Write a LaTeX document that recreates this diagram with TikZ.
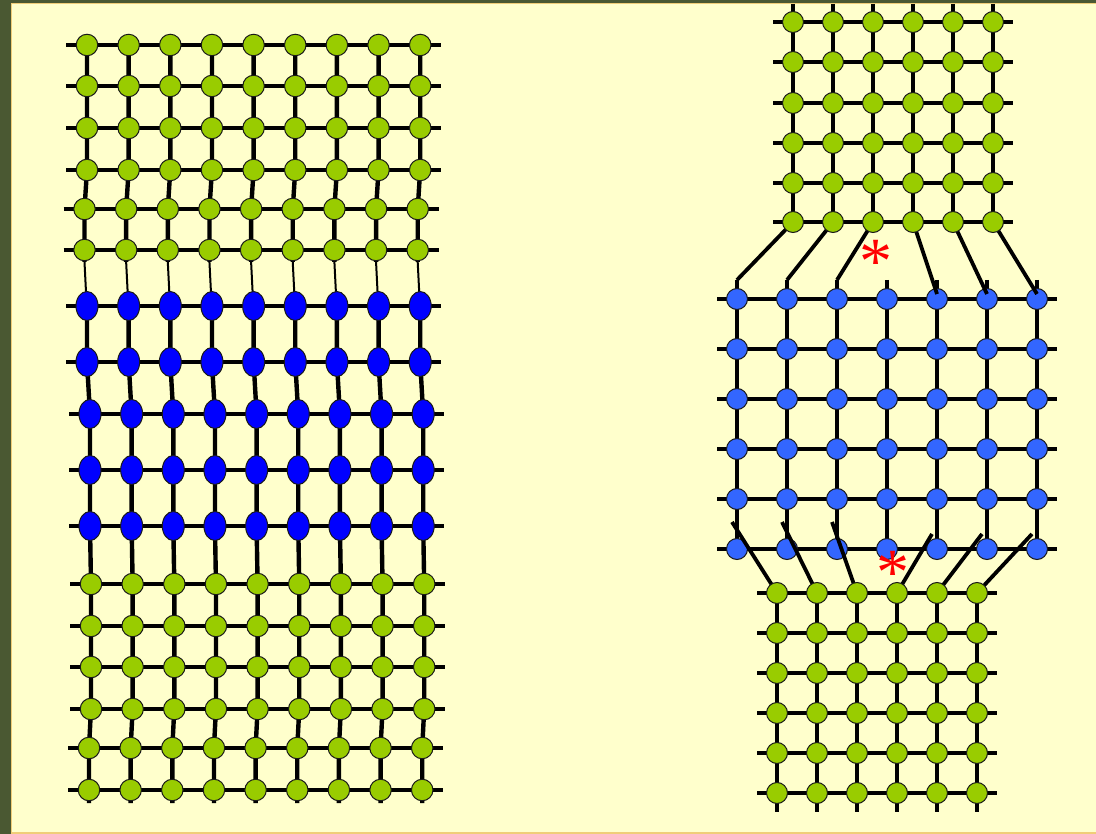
\documentclass[tikz,border=0pt]{standalone}
\usepackage{fontspec}
\newfontfamily\astfont{Liberation Serif}
\usetikzlibrary{shapes.geometric}
\definecolor{cream}{RGB}{255,255,204}
\definecolor{darkstrip}{RGB}{74,88,50}
\definecolor{edgeor}{RGB}{240,205,120}
\definecolor{limeg}{RGB}{153,204,0}
\definecolor{bluea}{RGB}{0,0,255}
\definecolor{blueb}{RGB}{51,102,255}
\tikzset{
  gridline/.style={line width=4.4pt},
  thinlink/.style={line width=2pt, draw=black},
  link/.style={line width=3.8pt},
  gnode/.style={circle, draw=black!90, line width=1pt, fill=limeg, minimum size=21.5pt, inner sep=0pt},
  bnodeA/.style={ellipse, draw=black!90, line width=1pt, fill=bluea, minimum width=22pt, minimum height=29pt, inner sep=0pt},
  bnodeB/.style={circle, draw=black!90, line width=1pt, fill=blueb, minimum size=21pt, inner sep=0pt},
  asterisk/.style={text=red, inner sep=0pt, font=\astfont\fontsize{66}{66}\selectfont}
}
\begin{document}
\begin{tikzpicture}[x=1pt,y=-1pt]
\useasboundingbox (0,0) rectangle (1096,834);
% background
\fill[darkstrip] (0,0) rectangle (1096,834);
\fill[cream] (11,3) rectangle (1096,834);
\draw[edgeor, line width=1.5pt] (11.7,834) -- (11.7,3.7) -- (1096,3.7);
\draw[edgeor, line width=1.5pt] (11,833) -- (1096,833);

% ---------- coordinates ----------
% left top green
\foreach \r/\y/\xo in {1/45/87, 2/86/87, 3/128/87, 4/170/87, 5/209/84.5, 6/250/84.5}{
  \foreach \c in {1,...,9}{\coordinate (LT\r-\c) at ({\xo+41.65*(\c-1)},\y);}
  \coordinate (LT\r-w) at ({\xo-21},\y);
  \coordinate (LT\r-e) at ({\xo+333.2+21},\y);
}
\foreach \c in {1,...,9}{\coordinate (LTs-\c) at ({84.5+41.65*(\c-1)},262);}
% left blue
\foreach \r/\y/\xo in {1/306/87, 2/362/87, 3/414/90, 4/470/90, 5/526/90}{
  \foreach \c in {1,...,9}{\coordinate (LB\r-\c) at ({\xo+41.65*(\c-1)},\y);}
  \coordinate (LB\r-w) at ({\xo-21},\y);
  \coordinate (LB\r-e) at ({\xo+333.2+21},\y);
}
% left bottom green
\foreach \r/\y/\xo in {1/584/91, 2/626/91, 3/667/91, 4/709/91, 5/748/89, 6/790/89}{
  \foreach \c in {1,...,9}{\coordinate (LG\r-\c) at ({\xo+41.65*(\c-1)},\y);}
  \coordinate (LG\r-w) at ({\xo-21},\y);
  \coordinate (LG\r-e) at ({\xo+333.2+21},\y);
}
\foreach \c in {1,...,9}{\coordinate (LGs-\c) at ({89+41.65*(\c-1)},803);}
% right top green
\foreach \r/\y in {1/22, 2/62, 3/103, 4/143, 5/183, 6/222}{
  \foreach \c in {1,...,6}{\coordinate (RT\r-\c) at ({793+40*(\c-1)},\y);}
  \coordinate (RT\r-w) at (773,\y);
  \coordinate (RT\r-e) at (1013,\y);
}
\foreach \c in {1,...,6}{\coordinate (RTs-\c) at ({793+40*(\c-1)},4);}
% right blue
\foreach \r in {1,...,6}{
  \foreach \c in {1,...,7}{\coordinate (RB\r-\c) at ({737+50*(\c-1)},{299+50*(\r-1)});}
  \coordinate (RB\r-w) at (717,{299+50*(\r-1)});
  \coordinate (RB\r-e) at (1057,{299+50*(\r-1)});
}
\foreach \c in {1,...,7}{\coordinate (RBs-\c) at ({737+50*(\c-1)},280);}
% right bottom green
\foreach \r in {1,...,6}{
  \foreach \c in {1,...,6}{\coordinate (RG\r-\c) at ({777+40*(\c-1)},{593+40*(\r-1)});}
  \coordinate (RG\r-w) at (757,{593+40*(\r-1)});
  \coordinate (RG\r-e) at (997,{593+40*(\r-1)});
}
\foreach \c in {1,...,6}{\coordinate (RGs-\c) at ({777+40*(\c-1)},812);}
% connector end points
\coordinate (TX4) at (937,294);
\coordinate (TX5) at (987,294);
\coordinate (TX6) at (1037,294);
\coordinate (BX1) at (732,522);
\coordinate (BX2) at (782,522);
\coordinate (BX3) at (832,522);
\coordinate (BX4) at (932,534);
\coordinate (BX5) at (982,534);
\coordinate (BX6) at (1032,534);

% ---------- grid lines ----------
\foreach \r in {1,...,6}{\draw[gridline] (LT\r-w) -- (LT\r-e);}
\foreach \r in {1,...,5}{\draw[gridline] (LB\r-w) -- (LB\r-e);}
\foreach \r in {1,...,6}{\draw[gridline] (LG\r-w) -- (LG\r-e);}
\foreach \c in {1,...,9}{
  \draw[gridline] (LT1-\c) -- (LT2-\c) -- (LT3-\c) -- (LT4-\c) -- (LT5-\c) -- (LT6-\c) -- (LTs-\c);
  \draw[gridline] (LB1-\c) -- (LB2-\c) -- (LB3-\c) -- (LB4-\c) -- (LB5-\c) -- (LG1-\c) -- (LG2-\c) -- (LG3-\c) -- (LG4-\c) -- (LG5-\c) -- (LG6-\c) -- (LGs-\c);
  \draw[thinlink] (LTs-\c) -- ([yshift=-6pt]LB1-\c);
}
\foreach \r in {1,...,6}{\draw[gridline] (RT\r-w) -- (RT\r-e);}
\foreach \r in {1,...,6}{\draw[gridline] (RB\r-w) -- (RB\r-e);}
\foreach \r in {1,...,6}{\draw[gridline] (RG\r-w) -- (RG\r-e);}
\foreach \c in {1,...,6}{
  \draw[gridline] (RTs-\c) -- (RT1-\c) -- (RT2-\c) -- (RT3-\c) -- (RT4-\c) -- (RT5-\c) -- (RT6-\c);
  \draw[gridline] (RG1-\c) -- (RG2-\c) -- (RG3-\c) -- (RG4-\c) -- (RG5-\c) -- (RG6-\c) -- (RGs-\c);
}
\foreach \c in {1,...,7}{
  \draw[gridline] (RBs-\c) -- (RB1-\c) -- (RB2-\c) -- (RB3-\c) -- (RB4-\c) -- (RB5-\c) -- (RB6-\c);
}

% ---------- blue nodes ----------
\foreach \r in {1,...,5}{\foreach \c in {1,...,9}{\node[bnodeA] (nLB\r-\c) at (LB\r-\c) {};}}
\foreach \r in {1,...,6}{\foreach \c in {1,...,7}{\node[bnodeB] (nRB\r-\c) at (RB\r-\c) {};}}

% ---------- connectors ----------
\draw[link] (RT6-1) -- (RBs-1);
\draw[link] (RT6-2) -- (RBs-2);
\draw[link] (RT6-3) -- (RBs-3);
\draw[link] (RT6-4) -- (TX4);
\draw[link] (RT6-5) -- (TX5);
\draw[link] (RT6-6) -- (TX6);
\foreach \c in {1,...,6}{\draw[link] (RG1-\c) -- (BX\c);}

% ---------- green nodes ----------
\foreach \r in {1,...,6}{\foreach \c in {1,...,9}{\node[gnode] (nLT\r-\c) at (LT\r-\c) {};}}
\foreach \r in {1,...,6}{\foreach \c in {1,...,9}{\node[gnode] (nLG\r-\c) at (LG\r-\c) {};}}
\foreach \r in {1,...,6}{\foreach \c in {1,...,6}{\node[gnode,minimum size=21pt] (nRT\r-\c) at (RT\r-\c) {};}}
\foreach \r in {1,...,6}{\foreach \c in {1,...,6}{\node[gnode,minimum size=21pt] (nRG\r-\c) at (RG\r-\c) {};}}

% ---------- asterisks ----------
\node[asterisk] (star1) at (876,262) {*};
\node[asterisk] (star2) at (893,573) {*};
\end{tikzpicture}
\end{document}
